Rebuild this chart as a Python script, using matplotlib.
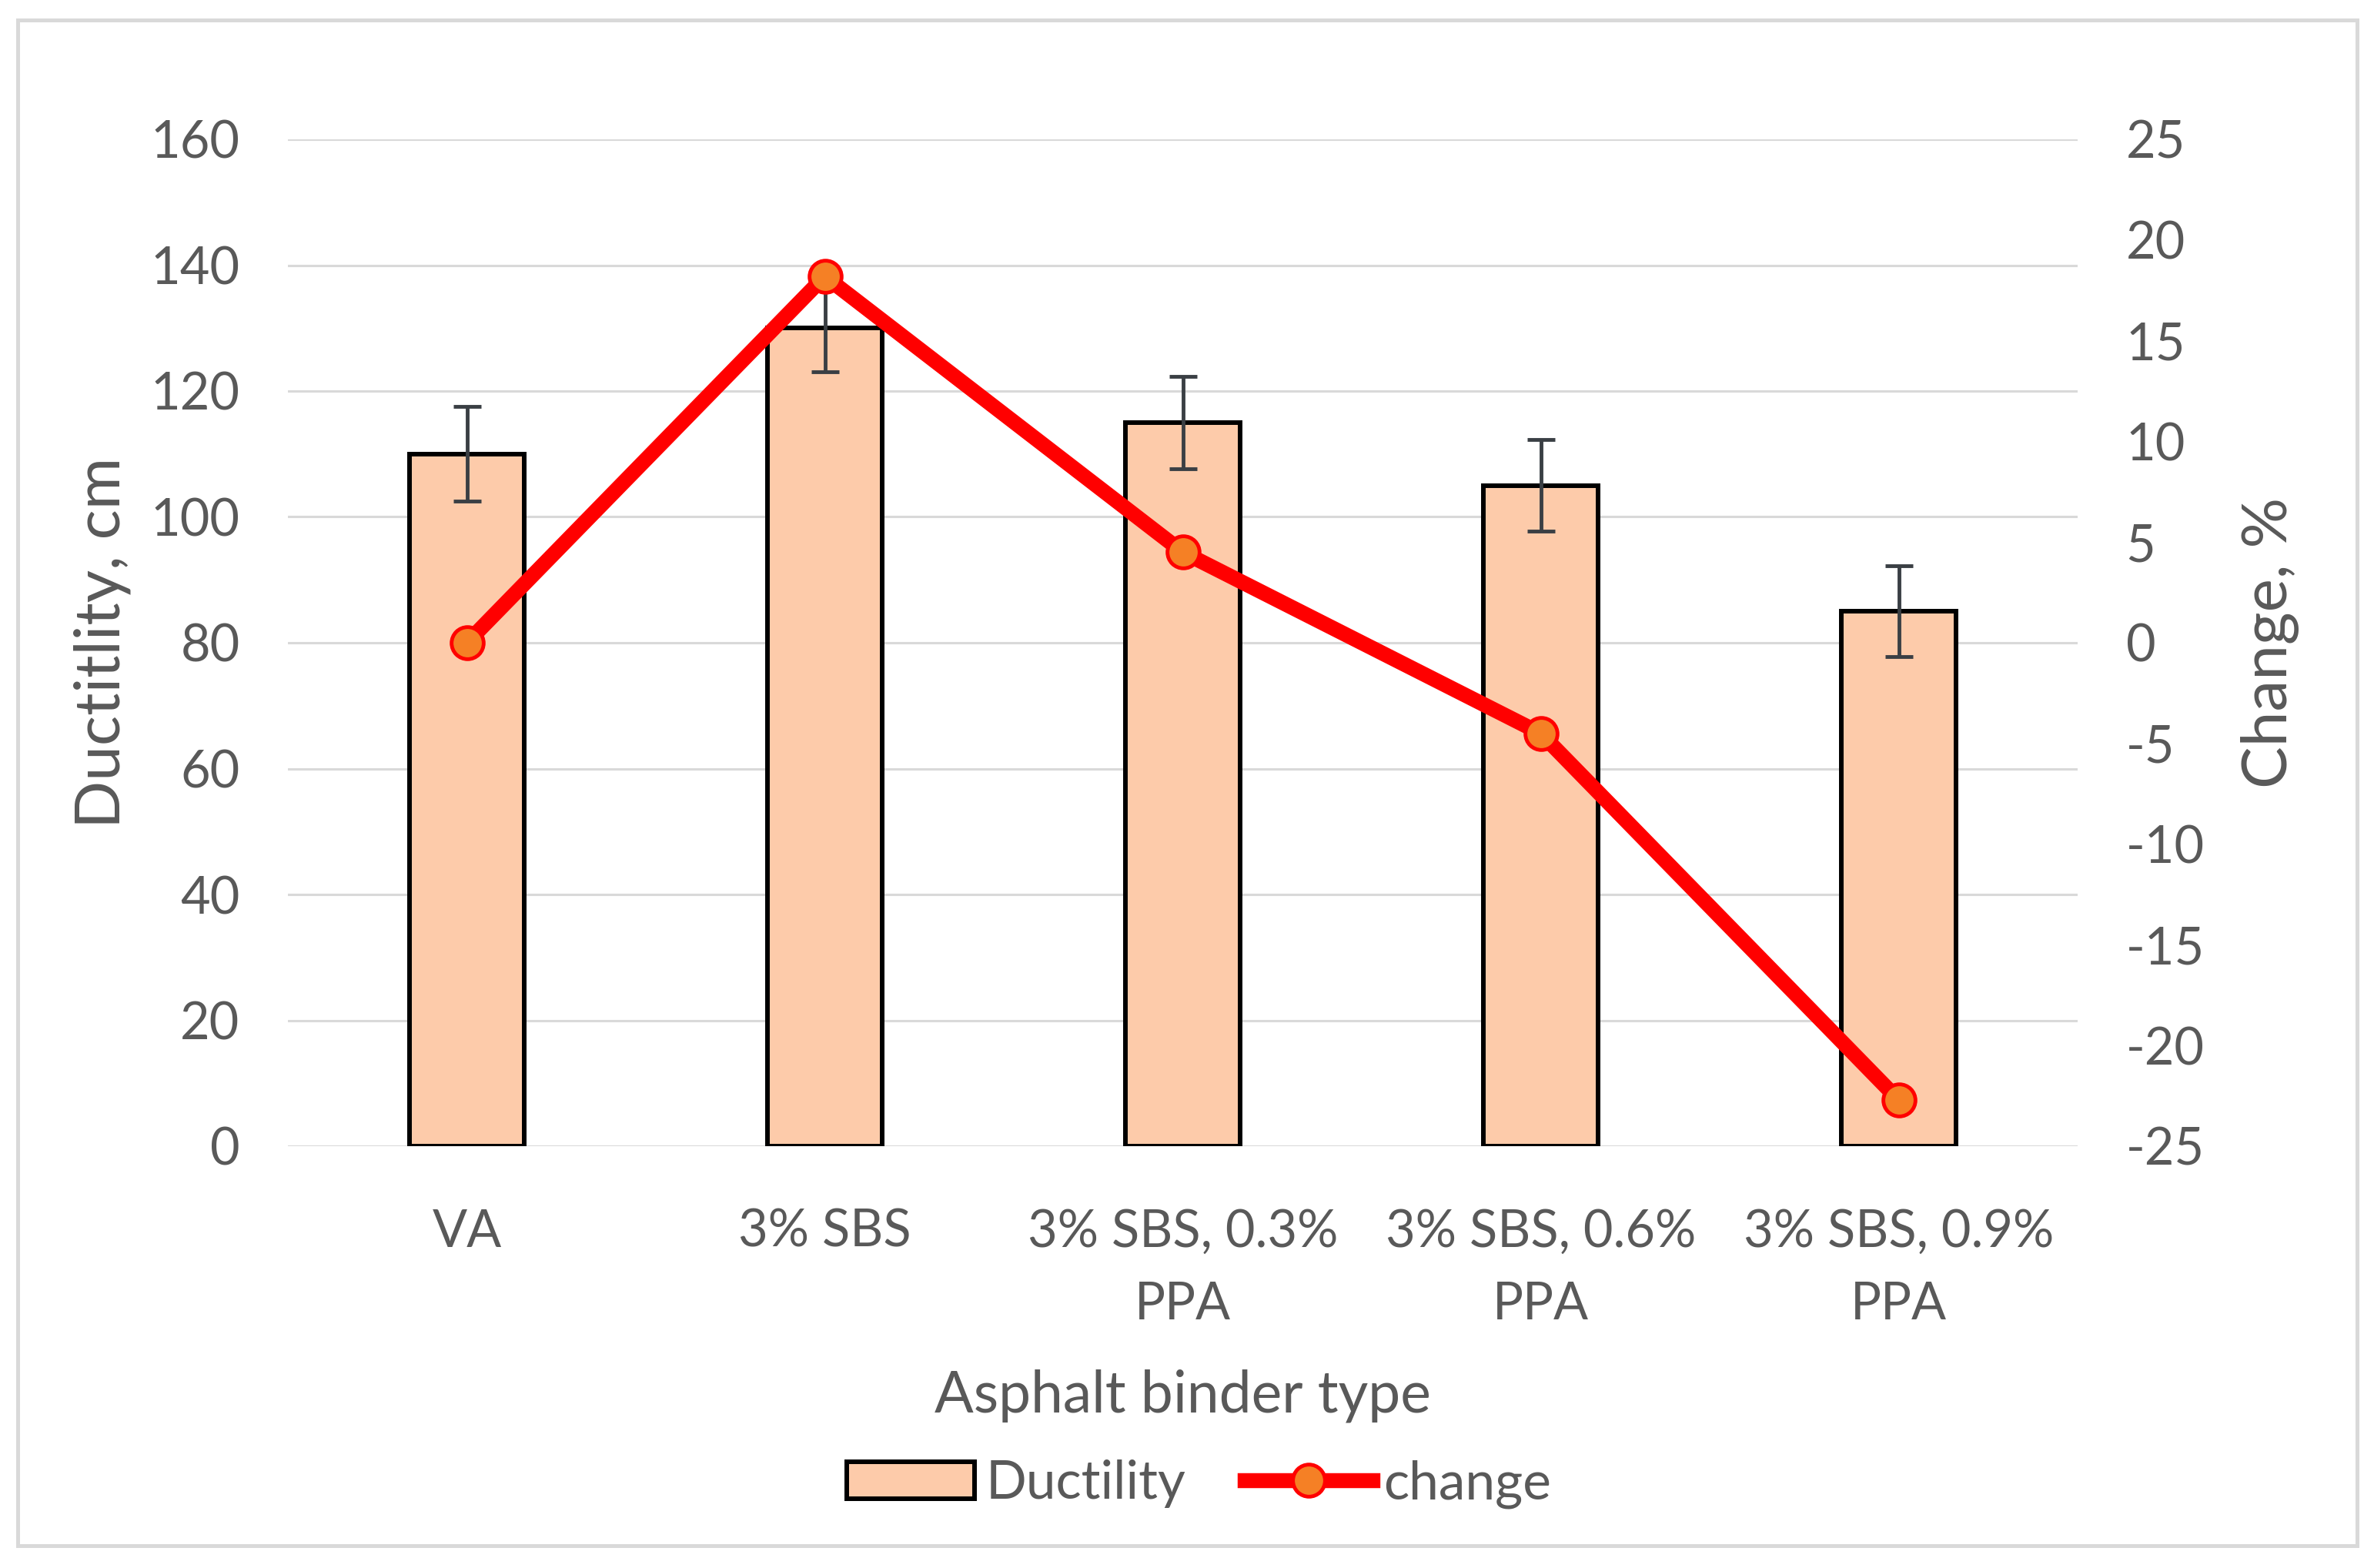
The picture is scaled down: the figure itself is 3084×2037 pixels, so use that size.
import matplotlib.pyplot as plt
import matplotlib.patches as mpatches
import numpy as np

# data
categories = ["VA", "3% SBS", "3% SBS, 0.3%\nPPA", "3% SBS, 0.6%\nPPA", "3% SBS, 0.9%\nPPA"]
ductility = [110, 130, 115, 105, 85]
ductility_err = [7.5, 7.0, 7.3, 7.3, 7.2]
change = [0.0, 18.2, 4.5, -4.5, -22.7]

left_ticks = [0, 20, 40, 60, 80, 100, 120, 140, 160]
right_ticks = [-25, -20, -15, -10, -5, 0, 5, 10, 15, 20, 25]

txt = '#595959'
grid_col = '#D9D9D9'
bar_col = '#FDCBAA'
plt.rcParams['font.family'] = ['Lato', 'DejaVu Sans']
plt.rcParams['axes.unicode_minus'] = False

W, H = 3084, 2037
fig = plt.figure(figsize=(W / 100, H / 100), dpi=100)

# chart area border
fig.patches.append(mpatches.Rectangle((23 / W, 1 - 2008 / H), (3062 - 23) / W, (2008 - 26) / H,
                                      transform=fig.transFigure, fill=False,
                                      edgecolor=grid_col, linewidth=3.6))

ax = fig.add_axes([374 / W, 1 - 1489 / H, (2699 - 374) / W, (1489 - 181) / H])
x = np.arange(len(categories))

bars = ax.bar(x, ductility, width=0.32, color=bar_col, edgecolor='black', linewidth=4.3,
              zorder=3, label='Ductility')
ax.errorbar(x, ductility, yerr=ductility_err, fmt='none', ecolor='#3A3F44', elinewidth=3.5,
            capsize=13, capthick=3.5, zorder=4)

ax.set_xlim(-0.5, len(categories) - 0.5)
ax.set_ylim(0, 160)
ax.set_yticks(left_ticks)
ax.yaxis.grid(True, color=grid_col, linewidth=2.2, zorder=0)
ax.set_axisbelow(True)
for s in ax.spines.values():
    s.set_visible(False)
ax.tick_params(axis='both', length=0, labelsize=48, labelcolor=txt)
ax.tick_params(axis='y', pad=45)
ax.tick_params(axis='x', pad=58)
ax.set_xticks(x)
ax.set_xticklabels(categories, linespacing=1.65)
ax.set_ylabel('Ductitlity, cm', fontsize=59, color=txt, labelpad=18)
ax.set_xlabel('Asphalt binder type', fontsize=54, color=txt, labelpad=38)

ax2 = ax.twinx()
line, = ax2.plot(x, change, color='#FF0000', linewidth=14, marker='o', markersize=30,
                 markerfacecolor='#F58025', markeredgecolor='#FF0000', markeredgewidth=3.5,
                 label='change', zorder=5)
ax2.set_ylim(-25, 25)
ax2.set_yticks(right_ticks)
for s in ax2.spines.values():
    s.set_visible(False)
ax2.tick_params(axis='y', length=0, labelsize=48, labelcolor=txt, pad=45)
ax2.set_ylabel('Change, %', fontsize=59, color=txt, labelpad=34)

leg = fig.legend([bars, line], ['Ductility', 'change'], loc='center',
                 bbox_to_anchor=(0.505, 1 - 1928 / H), ncol=2, frameon=False,
                 fontsize=50, handlelength=2.4, handleheight=0.7, handletextpad=0.2,
                 columnspacing=1.1, labelcolor=txt)

fig.savefig('out.png', dpi=100, facecolor='white')
